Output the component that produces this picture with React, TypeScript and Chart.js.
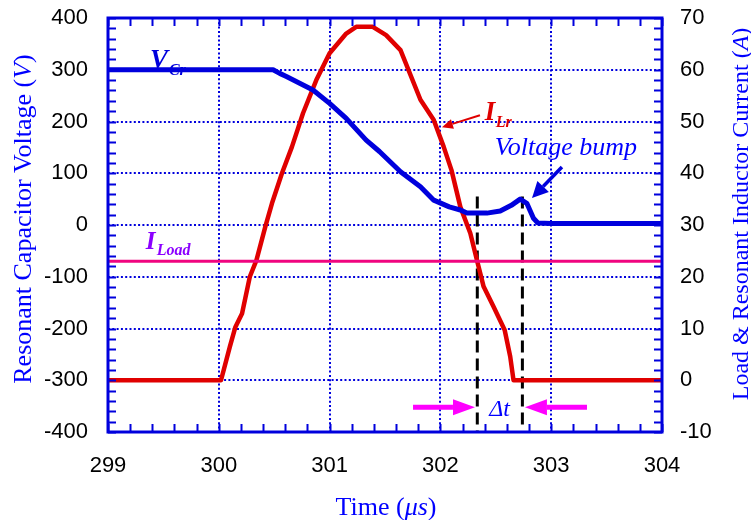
import React, { useEffect, useRef } from 'react';
import { Chart, registerables } from 'chart.js';

Chart.register(...registerables);

// ---- data ----
const timeMin = 299;
const timeMax = 304;
const voltMin = -400;
const voltMax = 400;
const ampMin = -10;
const ampMax = 70;

const vcrTime = [299, 300.49, 300.55, 300.61, 300.73, 300.85, 301.0, 301.15, 301.33, 301.45, 301.64, 301.82, 301.94, 302.08, 302.18, 302.24, 302.42, 302.54, 302.64, 302.72, 302.78, 302.84, 302.88, 303.0, 304];
const vcrVolt = [300, 300, 293, 287, 274, 261, 235, 206, 164, 142, 103, 74, 48, 35, 29, 23, 23, 27, 38, 50, 42, 13, 4, 3, 3];

const ilrTime = [299, 300.02, 300.1, 300.15, 300.21, 300.28, 300.34, 300.42, 300.48, 300.57, 300.66, 300.76, 300.88, 301.0, 301.15, 301.24, 301.39, 301.51, 301.64, 301.82, 301.94, 302.03, 302.1, 302.18, 302.27, 302.33, 302.39, 302.48, 302.58, 302.63, 302.66, 304];
const ilrAmp = [0, 0, 6.5, 10.3, 12.9, 20, 23.2, 29.7, 34.2, 40, 45.1, 51.6, 58, 63.2, 67, 68.3, 68.3, 66.7, 63.8, 54.2, 50.3, 45.1, 40.6, 33.5, 28.4, 23.2, 18.1, 14.2, 9.7, 4.6, 0, 0];

const iLoadTime = [299, 304];
const iLoadAmp = [23, 23];

const dashStartTime = [302.333, 302.333];
const dashStartVolt = [55, -400];
const dashEndTime = [302.74, 302.74];
const dashEndVolt = [55, -392];

const BLUE = '#0000dd';
const TEXT_BLUE = '#0000ff';
const RED = '#e00000';
const PINK = '#f0057f';
const MAGENTA = '#ff00ff';
const PURPLE = '#8b00ff';

const pts = (xs: number[], ys: number[]) => xs.map((x, i) => ({ x, y: ys[i] }));

type Seg = { t: string; f: string };

function richWidth(ctx: CanvasRenderingContext2D, segs: Seg[]) {
  let w = 0;
  for (const s of segs) { ctx.font = s.f; w += ctx.measureText(s.t).width; }
  return w;
}
function drawRich(ctx: CanvasRenderingContext2D, segs: Seg[], x: number, y: number, rot: number, color: string) {
  ctx.save();
  ctx.translate(x, y);
  ctx.rotate(rot);
  ctx.fillStyle = color;
  ctx.textBaseline = 'alphabetic';
  ctx.textAlign = 'left';
  let cx = -richWidth(ctx, segs) / 2;
  for (const s of segs) { ctx.font = s.f; ctx.fillText(s.t, cx, 0); cx += ctx.measureText(s.t).width; }
  ctx.restore();
}
function arrow(ctx: CanvasRenderingContext2D, x1: number, y1: number, x2: number, y2: number, color: string, lw: number, hl: number, hw: number) {
  const a = Math.atan2(y2 - y1, x2 - x1);
  const bx = x2 - Math.cos(a) * hl;
  const by = y2 - Math.sin(a) * hl;
  ctx.save();
  ctx.strokeStyle = color;
  ctx.fillStyle = color;
  ctx.lineWidth = lw;
  ctx.beginPath(); ctx.moveTo(x1, y1); ctx.lineTo(bx, by); ctx.stroke();
  ctx.beginPath();
  ctx.moveTo(x2, y2);
  ctx.lineTo(bx + Math.sin(a) * hw, by - Math.cos(a) * hw);
  ctx.lineTo(bx - Math.sin(a) * hw, by + Math.cos(a) * hw);
  ctx.closePath(); ctx.fill();
  ctx.restore();
}

const SERIF = '"Liberation Serif", "Times New Roman", serif';

const decorPlugin = {
  id: 'decor',
  beforeDraw(chart: any) {
    const ctx = chart.ctx;
    ctx.save(); ctx.fillStyle = '#fff'; ctx.fillRect(0, 0, chart.width, chart.height); ctx.restore();
  },
  afterDatasetsDraw(chart: any) {
    const ctx: CanvasRenderingContext2D = chart.ctx;
    const { left, right, top, bottom } = chart.chartArea;
    const sx = chart.scales.x, sy = chart.scales.y, sy1 = chart.scales.y1;
    ctx.save();
    ctx.strokeStyle = BLUE;
    ctx.lineWidth = 2;
    const tl = 8;
    ctx.beginPath();
    for (let v = timeMin; v <= timeMax + 1e-6; v += 0.2) {
      const px = Math.round(sx.getPixelForValue(v)) + 0.5;
      ctx.moveTo(px, bottom); ctx.lineTo(px, bottom - tl);
      ctx.moveTo(px, top); ctx.lineTo(px, top + tl);
    }
    for (let v = voltMin; v <= voltMax + 1e-6; v += 20) {
      const py = Math.round(sy.getPixelForValue(v)) + 0.5;
      ctx.moveTo(left, py); ctx.lineTo(left + tl, py);
    }
    for (let v = ampMin; v <= ampMax + 1e-6; v += 2) {
      const py = Math.round(sy1.getPixelForValue(v)) + 0.5;
      ctx.moveTo(right, py); ctx.lineTo(right - tl, py);
    }
    ctx.stroke();
    ctx.lineWidth = 3;
    ctx.strokeRect(left, top, right - left, bottom - top);
    ctx.restore();
  },
  afterDraw(chart: any) {
    const ctx: CanvasRenderingContext2D = chart.ctx;
    const sx = chart.scales.x, sy = chart.scales.y;
    const X = (t: number) => sx.getPixelForValue(t);
    const Y = (v: number) => sy.getPixelForValue(v);

    // axis titles
    drawRich(ctx, [
      { t: 'Resonant Capacitor Voltage (', f: `26px ${SERIF}` },
      { t: 'V', f: `italic 26px ${SERIF}` },
      { t: ')', f: `26px ${SERIF}` },
    ], 31, 219, -Math.PI / 2, TEXT_BLUE);
    drawRich(ctx, [
      { t: 'Load & Resonant Inductor Current (', f: `24px ${SERIF}` },
      { t: 'A', f: `italic 24px ${SERIF}` },
      { t: ')', f: `24px ${SERIF}` },
    ], 748, 214, -Math.PI / 2, TEXT_BLUE);
    drawRich(ctx, [
      { t: 'Time (', f: `26px ${SERIF}` },
      { t: 'μs', f: `italic 26px ${SERIF}` },
      { t: ')', f: `26px ${SERIF}` },
    ], 386, 515, 0, TEXT_BLUE);

    ctx.save();
    ctx.textBaseline = 'alphabetic';
    ctx.textAlign = 'left';
    // V_Cr
    ctx.fillStyle = BLUE;
    ctx.font = `bold italic 27px ${SERIF}`;
    ctx.fillText('V', X(299.38), Y(303));
    ctx.font = `bold italic 16px ${SERIF}`;
    ctx.fillText('Cr', X(299.55), Y(290));
    // I_Lr
    ctx.fillStyle = RED;
    ctx.font = `bold italic 27px ${SERIF}`;
    ctx.fillText('I', X(302.4), Y(203));
    ctx.font = `bold italic 16px ${SERIF}`;
    ctx.fillText('Lr', X(302.5), Y(189));
    // I_Load
    ctx.fillStyle = PURPLE;
    ctx.font = `bold italic 25px ${SERIF}`;
    ctx.fillText('I', X(299.34), Y(-46));
    ctx.font = `bold italic 16px ${SERIF}`;
    ctx.fillText('Load', X(299.44), Y(-58));
    // Voltage bump
    ctx.fillStyle = TEXT_BLUE;
    ctx.font = `italic 26px ${SERIF}`;
    ctx.fillText('Voltage bump', X(302.49), Y(135));
    // Δt
    ctx.font = `italic 24px ${SERIF}`;
    ctx.fillText('Δt', X(302.44), Y(-370));
    ctx.restore();

    arrow(ctx, X(302.357), Y(212), X(302.014), Y(189), RED, 2, 11, 5);
    arrow(ctx, X(303.097), Y(112), X(302.827), Y(52), BLUE, 3.5, 16, 8);
    arrow(ctx, X(301.753), Y(-352), X(302.312), Y(-352), MAGENTA, 5, 22, 8);
    arrow(ctx, X(303.323), Y(-352), X(302.763), Y(-352), MAGENTA, 5, 22, 8);
  },
};

export default function App() {
  const ref = useRef<HTMLCanvasElement>(null);
  useEffect(() => {
    if (!ref.current) return;
    const tickFont = { family: '"Liberation Sans", Arial, sans-serif', size: 22 };
    const chart = new Chart(ref.current, {
      type: 'line',
      data: {
        datasets: [
          { label: 'I_Load', data: pts(iLoadTime, iLoadAmp), yAxisID: 'y1', borderColor: PINK, borderWidth: 3, pointRadius: 0, tension: 0 },
          { label: 'V_Cr', data: pts(vcrTime, vcrVolt), yAxisID: 'y', borderColor: BLUE, borderWidth: 5, pointRadius: 0, tension: 0, borderJoinStyle: 'round' },
          { label: 'I_Lr', data: pts(ilrTime, ilrAmp), yAxisID: 'y1', borderColor: RED, borderWidth: 4.5, pointRadius: 0, tension: 0, borderJoinStyle: 'round' },
          { label: 'dt start', data: pts(dashStartTime, dashStartVolt), yAxisID: 'y', borderColor: '#000', borderWidth: 3, borderDash: [12, 6], pointRadius: 0 },
          { label: 'dt end', data: pts(dashEndTime, dashEndVolt), yAxisID: 'y', borderColor: '#000', borderWidth: 3, borderDash: [12, 6], pointRadius: 0 },
        ],
      },
      options: {
        responsive: false,
        animation: false,
        devicePixelRatio: 1,
        layout: { padding: { top: 18, left: 0, right: 0, bottom: 0 } },
        plugins: { legend: { display: false }, tooltip: { enabled: false } },
        scales: {
          x: {
            type: 'linear', position: 'bottom', min: timeMin, max: timeMax,
            ticks: { stepSize: 1, font: tickFont, color: '#000', padding: 21 },
            grid: { color: BLUE, lineWidth: 2, drawTicks: false },
            border: { display: false, dash: [2, 2.3] },
            afterFit: (s: any) => { s.height = 88; },
          },
          y: {
            type: 'linear', position: 'left', min: voltMin, max: voltMax,
            ticks: { stepSize: 100, font: tickFont, color: '#000', padding: 0 },
            grid: { color: BLUE, lineWidth: 2, drawTicks: true, tickLength: 20, tickColor: 'rgba(0,0,0,0)' },
            border: { display: false, dash: [2, 2.3] },
            afterFit: (s: any) => { s.width = 108; },
          },
          y1: {
            type: 'linear', position: 'right', min: ampMin, max: ampMax,
            ticks: { stepSize: 10, font: tickFont, color: '#000', padding: 0 },
            grid: { display: true, drawOnChartArea: false, drawTicks: true, tickLength: 18, tickColor: 'rgba(0,0,0,0)', color: 'rgba(0,0,0,0)' },
            border: { display: false },
            afterFit: (s: any) => { s.width = 89; },
          },
        },
      },
      plugins: [decorPlugin],
    } as any);
    return () => chart.destroy();
  }, []);
  return (
    <div style={{ position: 'fixed', left: 0, top: 0, width: 751, height: 520, background: '#fff' }}>
      <canvas ref={ref} width={751} height={520} style={{ width: 751, height: 520, display: 'block' }} />
    </div>
  );
}
